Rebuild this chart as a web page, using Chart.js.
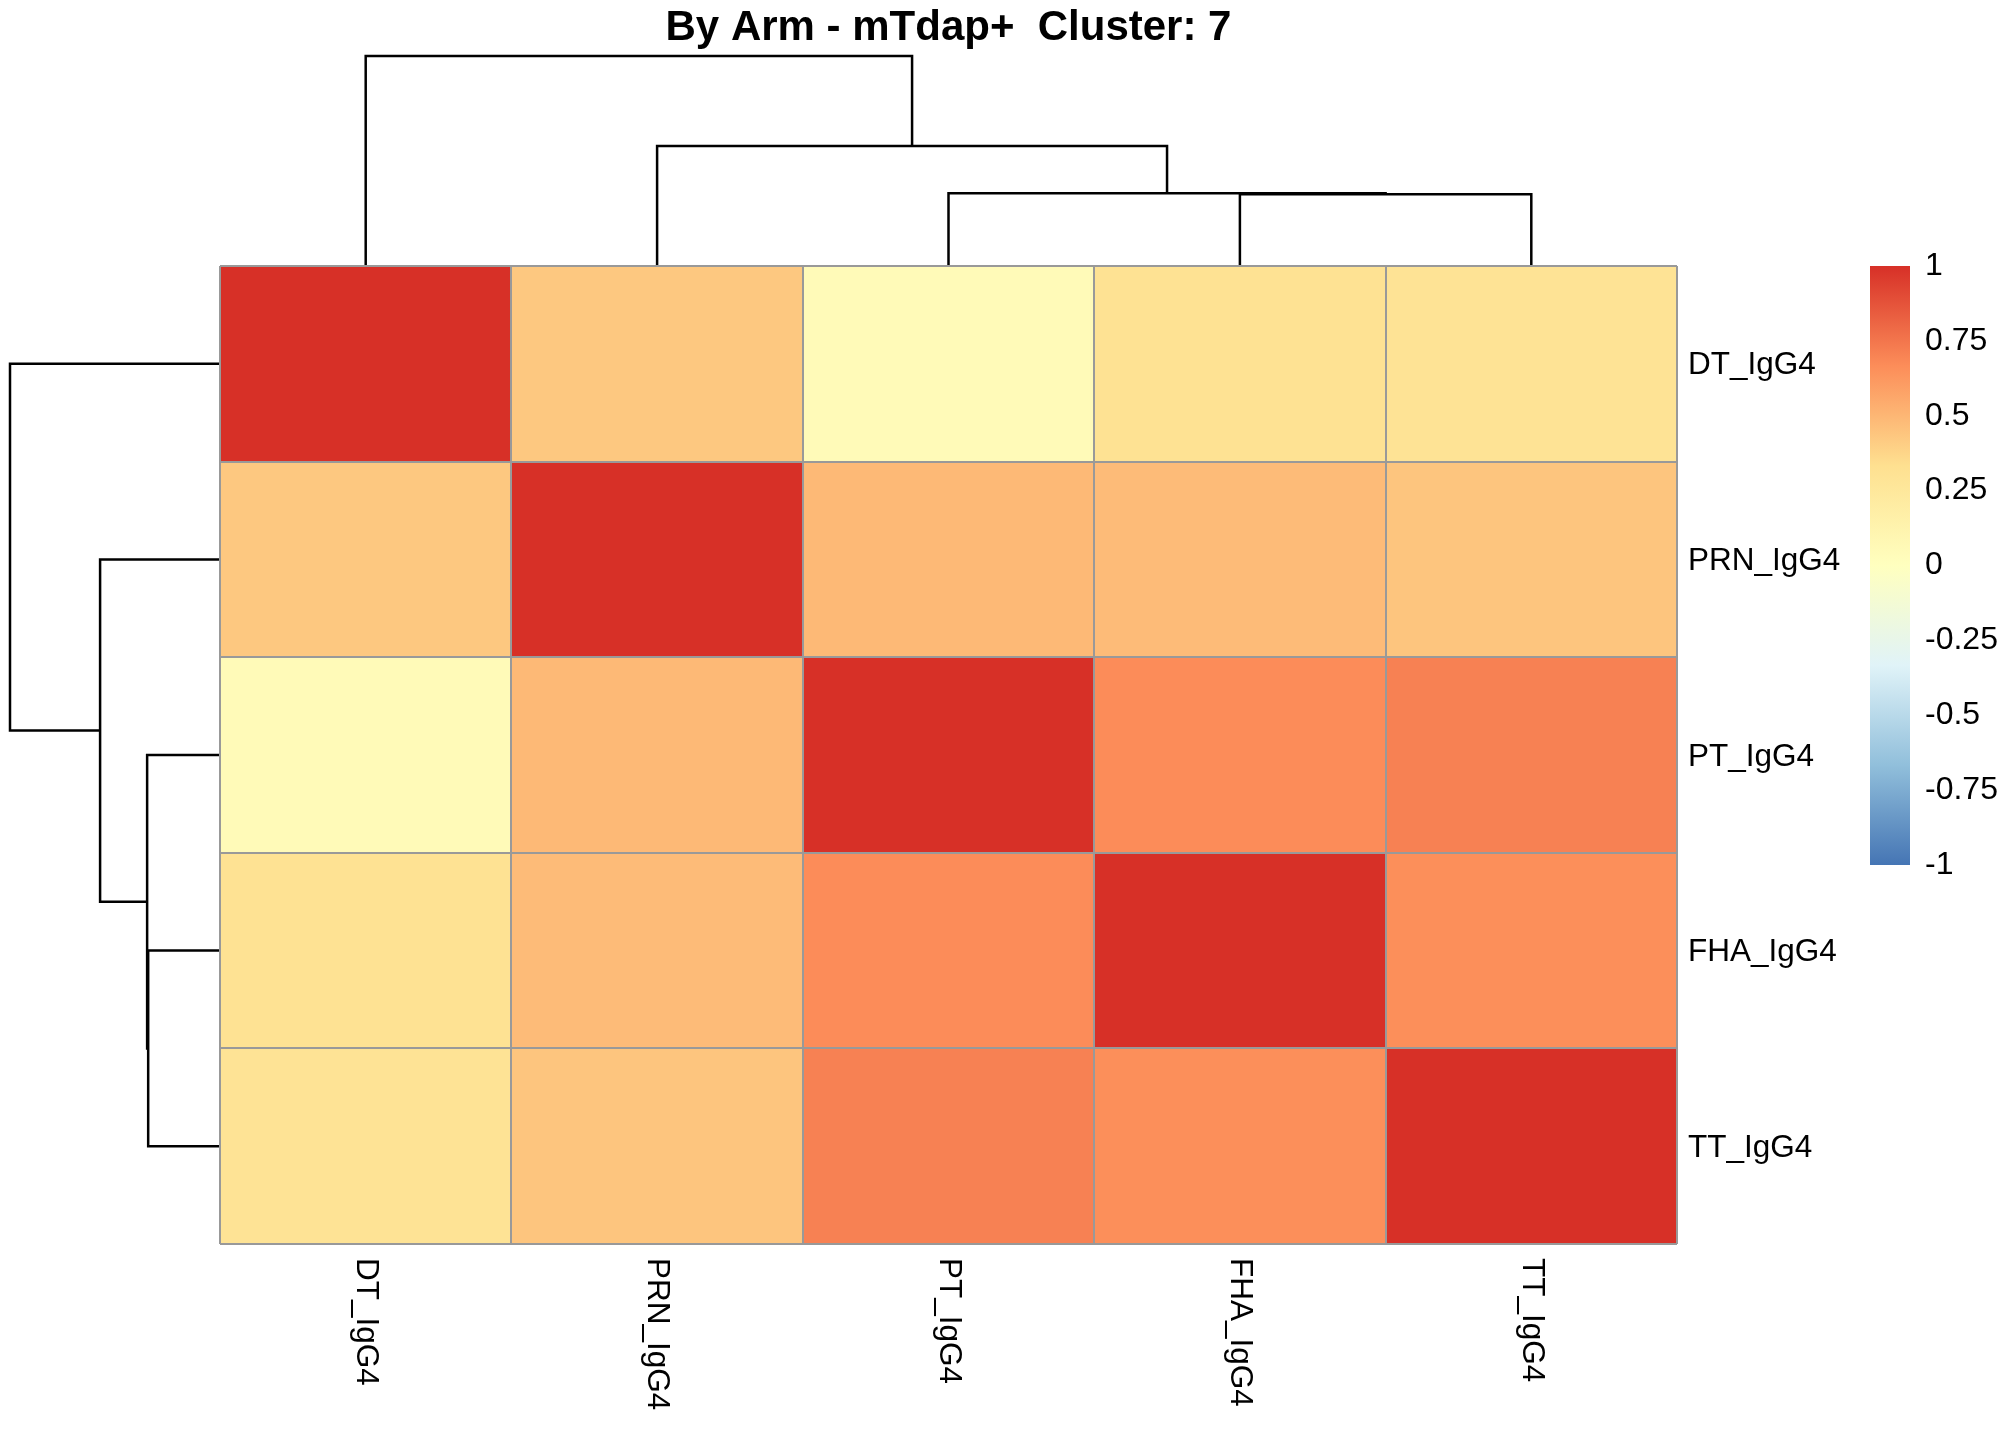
<!DOCTYPE html>
<html>
<head>
<meta charset="utf-8">
<title>By Arm - mTdap+ Cluster: 7</title>
<script src="https://cdn.jsdelivr.net/npm/chart.js@4.4.1/dist/chart.umd.min.js"></script>
<style>
  html, body { margin: 0; padding: 0; background: #ffffff; }
  #wrap { position: relative; width: 2016px; height: 1440px; overflow: hidden; background: #fff; }
  #main { position: absolute; left: 0; top: 0; }
  #legend { position: absolute; left: 1870px; top: 226px; }
</style>
</head>
<body>
<div id="wrap">
  <canvas id="main" width="2016" height="1440"></canvas>
  <canvas id="legend" width="146" height="679"></canvas>
</div>
<script>
// ---------------- data ----------------
const titleText = 'By Arm - mTdap+  Cluster: 7';
const markers = ['DT_IgG4', 'PRN_IgG4', 'PT_IgG4', 'FHA_IgG4', 'TT_IgG4'];

// correlation rows (display order = clustered order)
const rowDT  = [1.00, 0.43, 0.05, 0.31, 0.30];
const rowPRN = [0.43, 1.00, 0.49, 0.48, 0.44];
const rowPT  = [0.05, 0.49, 1.00, 0.67, 0.71];
const rowFHA = [0.31, 0.48, 0.67, 1.00, 0.66];
const rowTT  = [0.30, 0.44, 0.71, 0.66, 1.00];

// dendrogram (hclust style: negative = leaf (1-based, display order), positive = earlier merge)
const mergeA = [-4, -3, -2, -1];
const mergeB = [-5, 1, 2, 3];
const mergeHeight = [0.342, 0.347, 0.571, 1.0];

// colour legend
const legendBreaks = [-1, -0.75, -0.5, -0.25, 0, 0.25, 0.5, 0.75, 1];
const paletteStops = ['#4575B4', '#91BFDB', '#E0F3F8', '#FFFFBF', '#FEE090', '#FC8D59', '#D73027'];

// ---------------- layout / style constants ----------------
const FONT = "'Liberation Sans', Arial, Helvetica, sans-serif";
const LABEL_SIZE = 31.5;
const LEGEND_SIZE = 32;
const TITLE_SIZE = 42;
const TITLE_TOP = 3;
const PLOT = { left: 220, top: 266, right: 1677, bottom: 1244 };
const CANVAS_W = 2016, CANVAS_H = 1440;
const DENDRO_PX = 210;   // pixels per unit of dendrogram height
const GRID_COLOR = '#999999';
const LEGEND = { padTop: 40, padBottom: 40, axisWidth: 106, tickPad: 15 };

const matrix = [rowDT, rowPRN, rowPT, rowFHA, rowTT];

// ---------------- helpers ----------------
function hexToRgb(h) { return [1, 3, 5].map(i => parseInt(h.substr(i, 2), 16)); }
const stopRgb = paletteStops.map(hexToRgb);
function colorFor(v) {
  let t = (v + 1) / 2;
  t = Math.max(0, Math.min(1, t));
  const seg = t * (stopRgb.length - 1);
  const i = Math.min(Math.floor(seg), stopRgb.length - 2);
  const f = seg - i;
  const c = stopRgb[i].map((a, k) => Math.round(a + (stopRgb[i + 1][k] - a) * f));
  return 'rgb(' + c.join(',') + ')';
}

function dendroSegments() {
  const nodes = [];
  const nodePos = id => (id < 0 ? { p: -id - 1 + 0.5, h: 0 } : nodes[id - 1]);
  const segs = [];
  for (let k = 0; k < mergeA.length; k++) {
    const a = nodePos(mergeA[k]);
    const b = nodePos(mergeB[k]);
    const h = mergeHeight[k];
    segs.push([[a.p, a.h], [a.p, h], [b.p, h], [b.p, b.h]]);
    nodes.push({ p: (a.p + b.p) / 2, h: h });
  }
  return segs;
}

const plotW = PLOT.right - PLOT.left;
const plotH = PLOT.bottom - PLOT.top;

// ---------------- datasets ----------------
const cellDatasets = markers.map((m, j) => ({
  type: 'bar',
  label: m,
  indexAxis: 'y',
  xAxisID: 'x',
  yAxisID: 'y',
  grouped: false,
  data: matrix.map(() => [j, j + 1]),
  backgroundColor: matrix.map(row => colorFor(row[j])),
  borderWidth: 0,
  barPercentage: 1,
  categoryPercentage: 1,
  order: 2
}));

const segs = dendroSegments();
const lineStyle = {
  type: 'line',
  borderColor: '#000000',
  borderWidth: 2.5,
  pointRadius: 0,
  pointHoverRadius: 0,
  fill: false,
  tension: 0,
  clip: false,
  order: 1
};
const colDendro = segs.map(s => Object.assign({}, lineStyle, {
  xAxisID: 'x', yAxisID: 'yd',
  data: s.map(([p, h]) => ({ x: p, y: h }))
}));
const rowDendro = segs.map(s => Object.assign({}, lineStyle, {
  xAxisID: 'xr', yAxisID: 'yr',
  data: s.map(([p, h]) => ({ x: h, y: p }))
}));

// column labels (rotated clockwise, reading top to bottom)
const colLabelPlugin = {
  id: 'colLabels',
  afterDraw(chart) {
    const { ctx, chartArea, scales } = chart;
    ctx.save();
    ctx.font = LABEL_SIZE + 'px ' + FONT;
    ctx.fillStyle = '#000000';
    ctx.textAlign = 'left';
    ctx.textBaseline = 'middle';
    markers.forEach((m, i) => {
      const x = scales.x.getPixelForValue(i + 0.5);
      ctx.save();
      ctx.translate(x, chartArea.bottom + 14);
      ctx.rotate(Math.PI / 2);
      ctx.fillText(m, 0, 0);
      ctx.restore();
    });
    ctx.restore();
  }
};

new Chart(document.getElementById('main'), {
  type: 'bar',
  data: {
    labels: markers,
    datasets: cellDatasets.concat(colDendro, rowDendro)
  },
  options: {
    responsive: false,
    devicePixelRatio: 1,
    animation: false,
    events: [],
    layout: { padding: { left: PLOT.left, right: 0, top: 0, bottom: 0 } },
    plugins: {
      legend: { display: false },
      tooltip: { enabled: false },
      title: {
        display: true,
        text: titleText,
        fullSize: false,
        color: '#000000',
        font: { family: FONT, size: TITLE_SIZE, weight: 'bold' },
        padding: { top: TITLE_TOP, bottom: PLOT.top - TITLE_TOP - TITLE_SIZE * 1.2 }
      }
    },
    scales: {
      x: {
        type: 'linear',
        position: 'bottom',
        offset: false,
        min: 0,
        max: markers.length,
        ticks: { display: false, stepSize: 1 },
        grid: { offset: false, color: GRID_COLOR, lineWidth: 2, drawTicks: false, z: 1 },
        border: { display: false },
        afterFit(scale) { scale.height = CANVAS_H - PLOT.bottom; }
      },
      y: {
        type: 'category',
        position: 'right',
        labels: markers,
        offset: true,
        grid: { offset: true, color: GRID_COLOR, lineWidth: 2, drawTicks: false, z: 1 },
        border: { display: false },
        ticks: {
          color: '#000000',
          font: { family: FONT, size: LABEL_SIZE },
          padding: 11,
          labelOffset: 2,
          autoSkip: false
        },
        afterFit(scale) { scale.width = CANVAS_W - PLOT.right; }
      },
      yd: {
        type: 'linear',
        axis: 'y',
        position: 'left',
        display: false,
        beginAtZero: false,
        min: -plotH / DENDRO_PX,
        max: 0
      },
      xr: {
        type: 'linear',
        axis: 'x',
        position: 'bottom',
        display: false,
        offset: false,
        grid: { offset: false },
        reverse: true,
        min: -plotW / DENDRO_PX,
        max: 0
      },
      yr: {
        type: 'linear',
        axis: 'y',
        position: 'left',
        display: false,
        reverse: true,
        beginAtZero: false,
        min: 0,
        max: markers.length
      }
    }
  },
  plugins: [colLabelPlugin]
});

// ---------------- colour key ----------------
new Chart(document.getElementById('legend'), {
  type: 'bar',
  data: {
    labels: [''],
    datasets: [{
      data: [[legendBreaks[0], legendBreaks[legendBreaks.length - 1]]],
      backgroundColor(c) {
        const ca = c.chart.chartArea;
        if (!ca) return paletteStops[3];
        const g = c.chart.ctx.createLinearGradient(0, ca.bottom, 0, ca.top);
        paletteStops.forEach((s, i) => g.addColorStop(i / (paletteStops.length - 1), s));
        return g;
      },
      borderWidth: 0,
      barPercentage: 1,
      categoryPercentage: 1
    }]
  },
  options: {
    responsive: false,
    devicePixelRatio: 1,
    animation: false,
    events: [],
    layout: { padding: { top: LEGEND.padTop, bottom: LEGEND.padBottom, left: 0, right: 0 } },
    plugins: { legend: { display: false }, tooltip: { enabled: false }, title: { display: false } },
    scales: {
      x: { display: false },
      y: {
        position: 'right',
        min: legendBreaks[0],
        max: legendBreaks[legendBreaks.length - 1],
        afterBuildTicks(scale) { scale.ticks = legendBreaks.map(v => ({ value: v })); },
        afterFit(scale) { scale.width = LEGEND.axisWidth; },
        grid: { display: false, drawTicks: false },
        border: { display: false },
        ticks: {
          padding: LEGEND.tickPad,
          autoSkip: false,
          color: '#000000',
          font: { family: FONT, size: LEGEND_SIZE },
          callback: v => String(v)
        }
      }
    }
  }
});
</script>
</body>
</html>
